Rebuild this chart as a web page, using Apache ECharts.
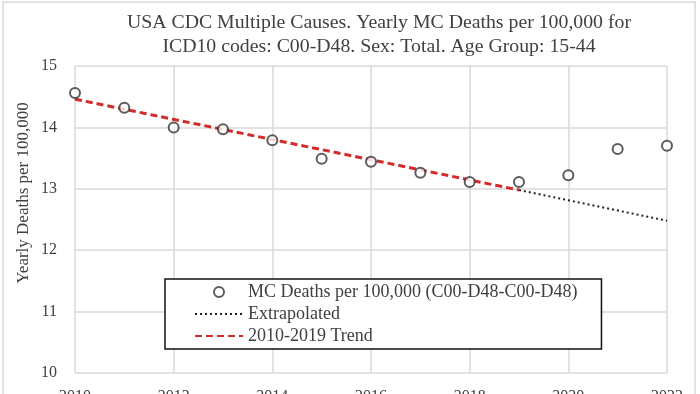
<!DOCTYPE html>
<html>
<head>
<meta charset="utf-8">
<script src="https://cdn.jsdelivr.net/npm/echarts@6/dist/echarts.min.js"></script>
<style>html,body{margin:0;padding:0;background:#fff}#c{width:700px;height:394px}</style>
</head>
<body>
<div id="c"></div>
<script>
const years = [2010,2011,2012,2013,2014,2015,2016,2017,2018,2019,2020,2021,2022];
const deaths = [14.56,14.32,14.00,13.97,13.79,13.49,13.44,13.26,13.11,13.11,13.22,13.65,13.70];
const trendYears = [2010,2019];
const trendValues = [14.46,12.98];
const extrapYears = [2019,2022];
const extrapValues = [12.98,12.48];
const xTicks = [2010,2012,2014,2016,2018,2020,2022];
const yTicks = [10,11,12,13,14,15];

const serif = "'Liberation Serif','DejaVu Serif',serif";
const chart = echarts.init(document.getElementById('c'), null, {renderer:'canvas'});
chart.setOption({
  animation:false,
  backgroundColor:'#fff',
  title:{
    text:'USA CDC Multiple Causes. Yearly MC Deaths per 100,000 for\nICD10 codes: C00-D48. Sex: Total. Age Group: 15-44',
    left:374, top:6, textAlign:'center',
    textStyle:{fontFamily:serif,fontSize:19.8,fontWeight:'normal',color:'#404040',lineHeight:24}
  },
  graphic:[
    {type:'rect',shape:{x:3,y:2,width:692,height:400},style:{fill:'none',stroke:'#d9d9d9',lineWidth:1.5},silent:true,z:-1},
    {type:'text',x:24,y:193,rotation:Math.PI/2,silent:true,
     style:{text:'Yearly Deaths per 100,000',fontFamily:serif,fontSize:17,fill:'#404040',align:'center',verticalAlign:'middle'}}
  ],
  grid:{left:75,right:33,top:66,bottom:21,containLabel:false,outerBoundsMode:'none'},
  legend:{
    orient:'vertical', left:165, top:279,
    backgroundColor:'#fff', borderColor:'#111', borderWidth:1.5,
    padding:[4,24,4,29], itemGap:4, itemWidth:48, itemHeight:10,
    textStyle:{fontFamily:serif,fontSize:18,color:'#404040'},
    data:[
      {name:'MC Deaths per 100,000 (C00-D48-C00-D48)'},
      {name:'Extrapolated', itemStyle:{opacity:0}},
      {name:'2010-2019 Trend', itemStyle:{opacity:0}}
    ]
  },
  xAxis:{
    type:'value', min:2010, max:2022, interval:2,
    axisLine:{show:false}, axisTick:{show:false},
    splitLine:{show:true,lineStyle:{color:'#d9d9d9',width:1.5}},
    axisLabel:{margin:16,fontFamily:serif,fontSize:16,color:'#404040',formatter:v=>xTicks.includes(v)?String(v):''}
  },
  yAxis:{
    type:'value', min:10, max:15, interval:1,
    axisLine:{show:false}, axisTick:{show:false},
    splitLine:{show:true,lineStyle:{color:'#d9d9d9',width:1.5}},
    axisLabel:{margin:18,fontFamily:serif,fontSize:16,color:'#404040',formatter:v=>yTicks.includes(v)?String(v):''}
  },
  series:[
    {name:'MC Deaths per 100,000 (C00-D48-C00-D48)', type:'scatter', z:5,
     symbol:'circle', symbolSize:10,
     itemStyle:{color:'#fff',borderColor:'#333',borderWidth:2},
     data:years.map((y,i)=>[y,deaths[i]])},
    {name:'Extrapolated', type:'line', z:2, symbol:'none',
     lineStyle:{color:'#222',width:2,type:[2,3]},
     itemStyle:{color:'#222'},
     data:extrapYears.map((y,i)=>[y,extrapValues[i]])},
    {name:'2010-2019 Trend', type:'line', z:3, symbol:'none',
     lineStyle:{color:'#d42a2a',width:3,type:[7,4]},
     itemStyle:{color:'#d42a2a'},
     data:trendYears.map((y,i)=>[y,trendValues[i]])}
  ]
});
</script>
</body>
</html>
